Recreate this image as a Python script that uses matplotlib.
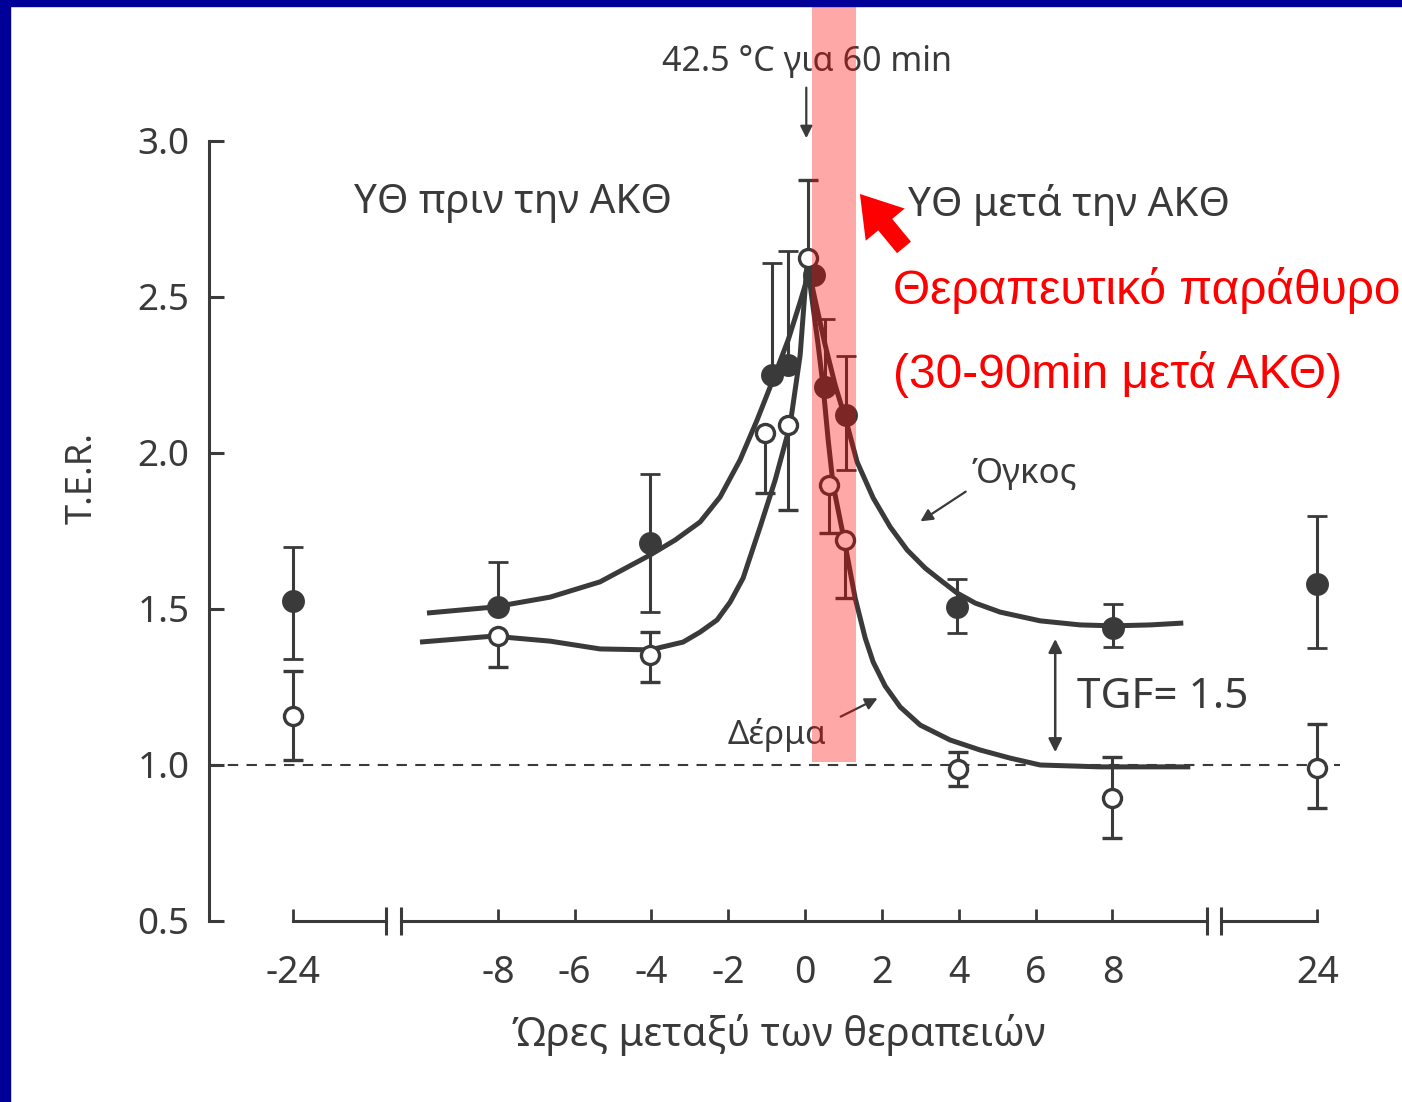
import numpy as np
import matplotlib
matplotlib.use("Agg")
import matplotlib.pyplot as plt
from matplotlib.patches import Rectangle

plt.rcParams['font.family'] = ['Noto Sans', 'DejaVu Sans']

# --- data (hours between treatments, T.E.R.) ---
# Όγκος (filled circles)
tumor_h = [-24, -8, -4.04, -0.86, -0.44, 0.23, 0.52, 1.07, 3.96, 8.02, 24]
tumor_v = [1.526, 1.506, 1.712, 2.25, 2.282, 2.571, 2.212, 2.122, 1.506, 1.439, 1.58]
tumor_top = [1.699, 1.651, 1.933, 2.609, 2.647, 2.571, 2.429, 2.311, 1.596, 1.516, 1.798]
tumor_bot = [1.34, 1.506, 1.49, 2.25, 2.282, 2.571, 2.212, 1.946, 1.423, 1.378, 1.375]

# Δέρμα (open circles)
skin_h = [-24, -8, -4.04, -1.04, -0.44, 0.08, 0.63, 1.04, 3.98, 8.0, 24]
skin_v = [1.157, 1.413, 1.353, 2.064, 2.09, 2.625, 1.897, 1.721, 0.987, 0.894, 0.99]
skin_top = [1.301, 1.413, 1.426, 2.064, 2.09, 2.875, 1.897, 1.721, 1.042, 1.026, 1.131]
skin_bot = [1.016, 1.314, 1.266, 1.872, 1.817, 2.625, 1.744, 1.535, 0.933, 0.766, 0.862]

# fitted curves as drawn in the figure
tumor_curve_h = [-9.844, -8.125, -6.641, -5.339, -4.036, -3.385, -2.734, -2.214, -1.693, -1.25,
                 -0.859, -0.443, -0.13, 0.104, 0.26, 0.521, 0.781, 1.094, 1.354, 1.771, 2.214,
                 2.656, 3.125, 3.516, 3.958, 4.427, 5.078, 6.12, 7.161, 8.021, 8.984, 9.844]
tumor_curve_v = [1.487, 1.506, 1.538, 1.587, 1.673, 1.721, 1.779, 1.859, 1.978, 2.106,
                 2.228, 2.362, 2.484, 2.58, 2.49, 2.346, 2.218, 2.09, 1.971, 1.856, 1.763,
                 1.689, 1.631, 1.593, 1.551, 1.519, 1.49, 1.462, 1.449, 1.446, 1.449, 1.455]
skin_curve_h = [-10.026, -8.125, -6.641, -5.339, -4.036, -3.177, -2.734, -2.292, -1.953, -1.615,
                -1.172, -0.781, -0.391, -0.13, 0.052, 0.182, 0.339, 0.469, 0.599, 0.729, 1.042,
                1.302, 1.563, 1.771, 2.083, 2.474, 2.995, 3.776, 4.557, 5.339, 6.12, 7.682, 10.026]
skin_curve_v = [1.394, 1.413, 1.397, 1.372, 1.369, 1.394, 1.426, 1.465, 1.522, 1.599,
                1.763, 1.913, 2.09, 2.314, 2.612, 2.49, 2.346, 2.212, 2.042, 1.897, 1.705,
                1.535, 1.407, 1.33, 1.253, 1.186, 1.128, 1.08, 1.048, 1.022, 1.0, 0.994, 0.994]

x_ticks = [-24, -8, -6, -4, -2, 0, 2, 4, 6, 8, 24]
x_labels = ['-24', '-8', '-6', '-4', '-2', '0', '2', '4', '6', '8', '24']
y_ticks = [0.5, 1.0, 1.5, 2.0, 2.5, 3.0]
y_labels = ['0.5', '1.0', '1.5', '2.0', '2.5', '3.0']

window = (0.18, 1.33)  # shaded "therapeutic window"

GREY = '#3a3a3a'
NAVY = '#000099'

# broken time axis: +-24 h squeezed next to the -10..10 h range
HOUR_KNOTS = [-100, -10.5, 10.5, 100]
POS_KNOTS = [-10.5 - 89.5 * 0.21, -10.5, 10.5, 10.5 + 89.5 * 0.21]


def fwd(h):
    return np.interp(h, HOUR_KNOTS, POS_KNOTS)


def inv(p):
    return np.interp(p, POS_KNOTS, HOUR_KNOTS)


fig = plt.figure(figsize=(14.02, 11.02), dpi=100)
ax = fig.add_axes([209 / 1402, 181 / 1102, 1181 / 1402, 780 / 1102])
ax.set_xscale('function', functions=(fwd, inv))
ax.set_xlim(-34.4, 33.0)
ax.set_ylim(0.5, 3.0)

# blue slide frame
fig.patches.append(Rectangle((0, 0), 10 / 1402, 1, transform=fig.transFigure, color=NAVY, zorder=0))
fig.patches.append(Rectangle((0, 1 - 6 / 1102), 1, 6 / 1102, transform=fig.transFigure, color=NAVY, zorder=0))

# reference line at T.E.R. = 1
ax.axhline(1.0, xmax=0.958, color=GREY, lw=1.5, ls=(0, (5, 4)), zorder=1)

# curves
for ch, cv in [(tumor_curve_h, tumor_curve_v), (skin_curve_h, skin_curve_v)]:
    ax.plot(ch, cv, color=GREY, lw=3.6, solid_capstyle='butt', solid_joinstyle='round', zorder=2)

# points with error bars
t_err = [np.array(tumor_v) - np.array(tumor_bot), np.array(tumor_top) - np.array(tumor_v)]
s_err = [np.array(skin_v) - np.array(skin_bot), np.array(skin_top) - np.array(skin_v)]
ax.errorbar(tumor_h, tumor_v, yerr=t_err, fmt='o', ms=14.5, mfc=GREY, mec=GREY, mew=2,
            ecolor=GREY, elinewidth=2.2, capsize=7, capthick=2.2, zorder=3)
ax.errorbar(skin_h, skin_v, yerr=s_err, fmt='o', ms=13, mfc='white', mec=GREY, mew=2.4,
            ecolor=GREY, elinewidth=2.2, capsize=7, capthick=2.2, zorder=3)

# axes styling
for s in ['top', 'right', 'bottom']:
    ax.spines[s].set_visible(False)
ax.spines['left'].set_linewidth(2.2)
ax.spines['left'].set_color(GREY)
ax.set_yticks(y_ticks)
ax.set_yticklabels(y_labels)
ax.set_xticks(x_ticks)
ax.set_xticklabels(x_labels)
ax.tick_params(axis='y', direction='in', length=11, width=2.2, color=GREY, labelcolor=GREY,
               labelsize=26.5, pad=14)
ax.tick_params(axis='x', direction='in', length=9, width=2, color=GREY, labelcolor=GREY,
               labelsize=27, pad=24)
ax.minorticks_off()

# drawn x axis with breaks
for a, b in [(-24, -12.4), (-10.6, 10.45), (12.0, 24)]:
    ax.plot([a, b], [0.5, 0.5], color=GREY, lw=2.2, clip_on=False, zorder=2)
ax.vlines([-12.4, -10.6, 10.45, 12.0], 0.455, 0.545, color=GREY, lw=2.2, clip_on=False)

# labels
fig.text(83 / 1402, 1 - 478 / 1102, 'T.E.R.', rotation=90, ha='center', va='center',
         fontsize=26, color=GREY)
fig.text(779 / 1402, 1 - 1035 / 1102, 'Ώρες μεταξύ των θεραπειών', ha='center', va='center',
         fontsize=28.8, color=GREY)

# annotations
ax.text(0.05, 3.253, '42.5 °C για 60 min', ha='center', va='center', fontsize=24.5, color=GREY)
ax.annotate('', xy=(0.03, 3.0), xytext=(0.03, 3.18), annotation_clip=False,
            arrowprops=dict(arrowstyle='-|>', color=GREY, lw=1.6, mutation_scale=18))
ax.text(-7.6, 2.801, 'ΥΘ πριν την ΑΚΘ', ha='center', va='center', fontsize=29, color=GREY)
ax.text(6.875, 2.795, 'ΥΘ μετά την ΑΚΘ', ha='center', va='center', fontsize=29, color=GREY)
ax.text(5.70, 1.933, 'Όγκος', ha='center', va='center', fontsize=25, color=GREY)
ax.annotate('', xy=(2.94, 1.776), xytext=(4.24, 1.881),
            arrowprops=dict(arrowstyle='-|>', color=GREY, lw=1.6, mutation_scale=18))
ax.text(-0.73, 1.096, 'Δέρμα', ha='center', va='center', fontsize=24, color=GREY)
ax.annotate('', xy=(1.95, 1.218), xytext=(0.86, 1.151),
            arrowprops=dict(arrowstyle='-|>', color=GREY, lw=1.6, mutation_scale=18))
ax.text(7.08, 1.218, 'TGF= 1.5', ha='left', va='center', fontsize=30.5, color=GREY)
ax.annotate('', xy=(6.51, 1.413), xytext=(6.51, 1.032),
            arrowprops=dict(arrowstyle='<|-|>', color=GREY, lw=1.8, mutation_scale=20))

# therapeutic window
ax.axvspan(window[0], window[1], ymin=(1.01 - 0.5) / 2.5, ymax=(921 - 7) / 780,
           color='red', alpha=0.34, lw=0, zorder=5, clip_on=False)
ax.text(2.29, 2.522, 'Θεραπευτικό παράθυρο', ha='left', va='center', fontsize=34.4,
        color='red', family=['Liberation Sans', 'DejaVu Sans'], clip_on=False)
ax.text(2.29, 2.25, '(30-90min μετά ΑΚΘ)', ha='left', va='center', fontsize=34.4,
        color='red', family=['Liberation Sans', 'DejaVu Sans'])
ax.annotate('', xy=(1.38, 2.837), xytext=(2.62, 2.652),
            arrowprops=dict(arrowstyle='simple,head_length=1.1,head_width=1.4,tail_width=0.5',
                            color='red', lw=0, mutation_scale=26))

fig.savefig('out.png', dpi=100, facecolor='white')
